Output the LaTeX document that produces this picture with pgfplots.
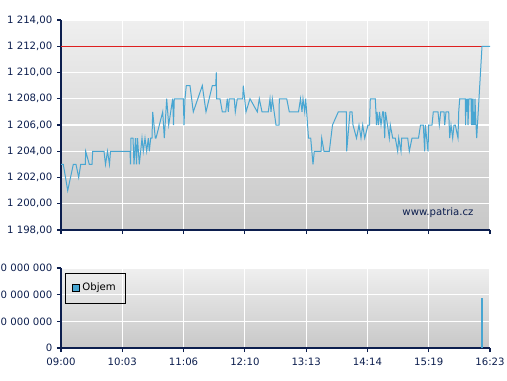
\documentclass[border=0pt]{standalone}
\usepackage{pgfplots}
\pgfplotsset{compat=1.18}
\usepackage{fontspec}
\setmainfont{DejaVu Sans}
\definecolor{navy}{RGB}{12,30,78}
\definecolor{lineblue}{RGB}{72,166,210}
\definecolor{redl}{RGB}{222,32,32}
\definecolor{bgtop}{RGB}{239,239,239}
\definecolor{bgbot}{RGB}{200,200,200}
\begin{document}
\begin{tikzpicture}
\useasboundingbox (0pt,0pt) rectangle (380.25pt,285pt);
\pgfplotsset{
  mystyle/.style={
    scale only axis,
    width=321.75pt,
    xmin=61, xmax=490,
    xtick={61,122.29,183.57,244.86,306.14,367.43,428.71,490},
    axis x line*=bottom,
    axis y line*=left,
    axis line style={navy, line width=0.8pt},
    tick style={navy, line width=0.8pt},
    tick align=outside,
    major tick length=3pt,
    grid=major,
    grid style={white, line width=0.9pt},
    axis background/.style={top color=bgtop, bottom color=bgbot},
    tick label style={font=\fontsize{7.6}{9}\selectfont, text=navy},
    xticklabel style={yshift=-1pt},
    clip=true,
  }
}
\begin{axis}[mystyle,
  at={(45.75pt,112.5pt)}, anchor=south west,
  height=157.5pt,
  ymin=198, ymax=214,
  ytick={198,200,202,204,206,208,210,212,214},
  yticklabels={{1 198,00},{1 200,00},{1 202,00},{1 204,00},{1 206,00},{1 208,00},{1 210,00},{1 212,00},{1 214,00}},
  xticklabels={},
]
\addplot[redl, line width=0.8pt] coordinates {(61,212) (490,212)};
\addplot[lineblue, line width=0.75pt] coordinates {
(61,203)(63.3,203)(67.7,201)(73.3,203)(76,203)(78.7,202)(80.7,203)(85.3,203)(85.7,204)(89.3,203)(92,203)(92.7,204)(104,204)(105.5,203)(107.5,204)(109.5,203)(110.5,204)(130,204)(130.5,203)(131,205)(133,205)(134,203)(135.5,205)(136.5,203)(137.5,205)(139.3,203)(142,205)(143.3,204)(145,205)(146.7,204)(148.3,205)(149.3,204)(150.7,205)(152,205)(152.7,207)(155.3,205)(156,205)(162.7,207)(164.3,205)(166.7,208)(168.7,206)(172.7,208)(173.5,206)(174.3,208)(183.3,208)(184,206)(185,208)(186.3,209)(190,209)(193.3,207)(202.3,209)(206,207)(212.3,209)(215.7,209)(216.3,210)(216.6,208)(220,208)(222.3,207)(225.7,207)(227.3,208)(228.3,207)(229.3,208)(234.3,208)(235.3,207)(237.3,208)(242.7,208)(243.3,209)(246,207)(250,208)(257.3,207)(259.3,208)(262,207)(268.3,207)(270,208)(271,207)(272.3,208)(276,206)(279,206)(279.3,208)(286.7,208)(289.3,207)(298.5,207)(300.5,208)(302,207)(303,208)(304.7,207)(305.7,208)(308.5,205)(310.7,205)(313,203)(314.3,204)(321,204)(321.7,205)(324,204)(329.3,204)(332.5,206)(338.3,207)(346.3,207)(346.7,204)(350,207)(352,207)(353,206)(356.5,205)(359,206)(361,205)(362.7,206)(364.7,205)(368,206)(369.5,206)(370.3,208)(375.3,208)(376.5,206)(377,207)(378.5,206)(379.5,207)(381,206)(382.7,207)(383.5,207)(384.7,205)(385.5,207)(387.5,206)(389.3,205)(390.3,206)(392.7,205)(395.3,205)(397.7,204)(398.7,205)(401,204)(401.7,205)(407.7,205)(409.3,204)(412,205)(417.7,205)(418.5,205)(420.5,206)(423.3,206)(424.7,204)(425.3,206)(428,204)(428.7,206)(432,206)(433.3,207)(438,207)(439.3,206)(440.7,207)(444,207)(444.7,206)(446,207)(448.7,207)(449.7,205)(451,206)(452.7,205)(454,206)(455.3,206)(458,205)(458.7,207)(459.7,208)(465.3,208)(465.6,206)(466,208)(467,207)(467.5,208)(468,206)(468.5,207)(469,208)(471,208)(471.5,206)(472,208)(472.5,206)(473,208)(473.5,206)(474,207)(474.5,206)(475,208)(476,206)(476.7,205)(482,212)(490,212)
};
\node[font=\fontsize{7.6}{9}\selectfont, text=navy] at (axis cs:438,199.3) {www.patria.cz};
\end{axis}
\begin{axis}[mystyle,
  at={(45.75pt,24pt)}, anchor=south west,
  height=60pt,
  ymin=0, ymax=300,
  ytick={0,100,200,300},
  yticklabels={{0},{100 000 000},{200 000 000},{300 000 000}},
  xticklabels={09:00,10:03,11:06,12:10,13:13,14:14,15:19,16:23},
  legend style={at={(axis cs:65,282)}, anchor=north west, draw=black, line width=0.6pt, fill=none,
    font=\fontsize{7.6}{9}\selectfont, inner xsep=5pt, inner ysep=5.5pt,
    /tikz/every even column/.append style={column sep=2pt}},
  legend cell align=left,
]
\addplot[lineblue, line width=0.8pt, ycomb, mark=none,
  legend image code/.code={\draw[fill=lineblue, draw=black, line width=0.6pt] (0pt,-2.6pt) rectangle (5.2pt,2.6pt);}]
  coordinates {(482,187)};
\addlegendentry{Objem}
\end{axis}
\end{tikzpicture}
\end{document}
